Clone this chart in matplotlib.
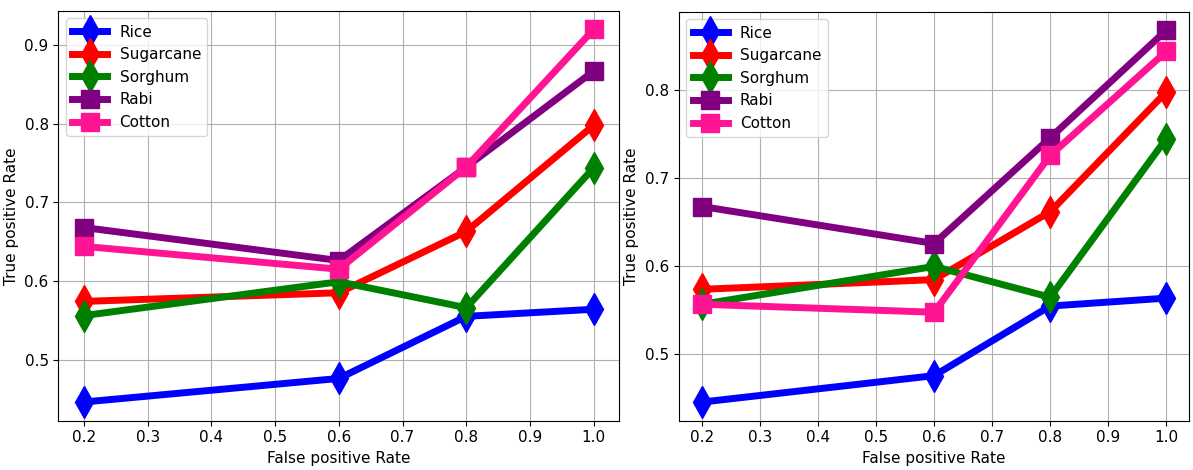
import matplotlib
matplotlib.use("Agg")
import matplotlib.pyplot as plt

fpr = [0.2, 0.6, 0.8, 1.0]

# left panel
rice_1 = [0.446, 0.476, 0.555, 0.564]
sugarcane_1 = [0.574, 0.585, 0.663, 0.798]
sorghum_1 = [0.556, 0.599, 0.566, 0.744]
rabi_1 = [0.668, 0.626, 0.745, 0.867]
cotton_1 = [0.644, 0.615, 0.745, 0.920]

# right panel
rice_2 = [0.446, 0.476, 0.555, 0.564]
sugarcane_2 = [0.574, 0.585, 0.662, 0.798]
sorghum_2 = [0.557, 0.600, 0.565, 0.745]
rabi_2 = [0.668, 0.626, 0.746, 0.868]
cotton_2 = [0.557, 0.548, 0.726, 0.844]

names = ["Rice", "Sugarcane", "Sorghum", "Rabi", "Cotton"]
colors = ["blue", "red", "green", "purple", "deeppink"]
markers = ["d", "d", "d", "s", "s"]

plt.rcParams["font.size"] = 11

fig = plt.figure(figsize=(11.93, 4.7), dpi=100)
ax1 = fig.add_axes([0.049, 0.105, 0.470, 0.872])
ax2 = fig.add_axes([0.569, 0.105, 0.428, 0.870])

for ax, series in zip([ax1, ax2], [[rice_1, sugarcane_1, sorghum_1, rabi_1, cotton_1],
                                   [rice_2, sugarcane_2, sorghum_2, rabi_2, cotton_2]]):
    for name, vals, c, m in zip(names, series, colors, markers):
        ms = 16 if m == "d" else 13
        ax.plot(fpr, vals, color=c, marker=m, markersize=ms, linewidth=5, label=name)
    ax.set_xlabel("False positive Rate")
    ax.set_ylabel("True positive Rate")
    ax.set_xticks([0.2, 0.3, 0.4, 0.5, 0.6, 0.7, 0.8, 0.9, 1.0])
    ax.grid(True)
    ax.legend(loc="upper left", handlelength=2.3)

ax1.set_yticks([0.5, 0.6, 0.7, 0.8, 0.9])
ax2.set_yticks([0.5, 0.6, 0.7, 0.8])

fig.savefig("out.png")
